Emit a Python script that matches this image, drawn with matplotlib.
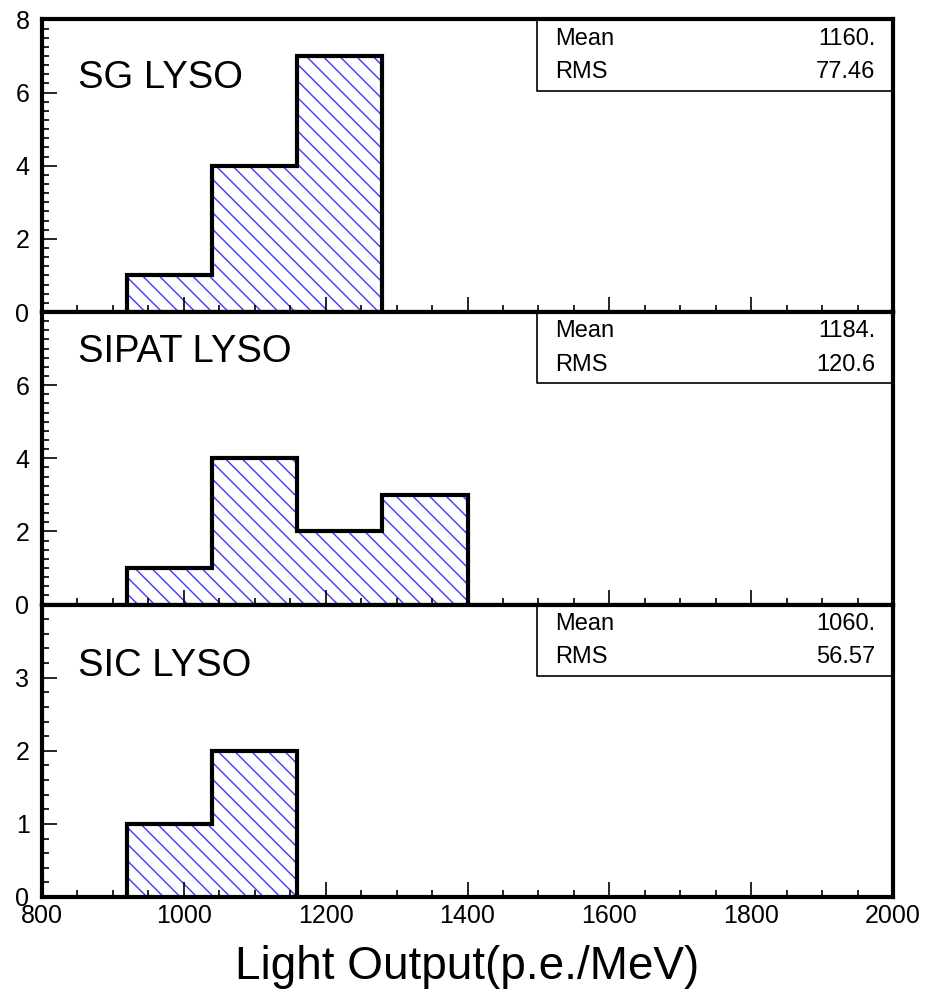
import numpy as np
import matplotlib.pyplot as plt
from matplotlib.ticker import MultipleLocator, FixedLocator

plt.rcParams['font.family'] = ['Liberation Sans', 'DejaVu Sans']
plt.rcParams['hatch.linewidth'] = 1.0

# histogram data
edges = [920, 1040, 1160, 1280, 1400]
names = ["SG LYSO", "SIPAT LYSO", "SIC LYSO"]
counts = [
    [1, 4, 7, 0],
    [1, 4, 2, 3],
    [1, 2, 0, 0],
]
means = ["1160.", "1184.", "1060."]
rms = ["77.46", "120.6", "56.57"]
ymax = [8, 8, 4]
yticks = [[0, 2, 4, 6, 8], [0, 2, 4, 6], [0, 1, 2, 3]]
yminor = [0.25, 0.25, 0.2]
label_y = [0.80, 0.863, 0.79]

fig = plt.figure(figsize=(9.27, 9.92), dpi=100)
left, width = 42 / 927, 851 / 927
h = 292.5 / 992
bottom0 = 1 - 897 / 992

for i in range(3):
    ax = fig.add_axes([left, bottom0 + (2 - i) * h, width, h])
    c = np.array(counts[i], dtype=float)
    # trim trailing empty bins
    n = len(c)
    while n > 0 and c[n - 1] == 0:
        n -= 1
    ax.stairs(c[:n], edges[:n + 1], baseline=0, fill=True, facecolor='white',
              edgecolor='#3a3aff', hatch='\\\\', linewidth=0)
    ax.stairs(c[:n], edges[:n + 1], baseline=0, color='black', linewidth=3)

    ax.set_xlim(800, 2000)
    ax.set_ylim(0, ymax[i])
    ax.xaxis.set_major_locator(MultipleLocator(200))
    ax.xaxis.set_minor_locator(MultipleLocator(50))
    ax.yaxis.set_major_locator(FixedLocator(yticks[i]))
    ax.yaxis.set_minor_locator(MultipleLocator(yminor[i]))
    ax.tick_params(which='both', direction='in', top=False, right=False,
                   width=1.2, labelsize=18)
    ax.tick_params(which='major', length=11)
    ax.tick_params(which='minor', length=5)
    ax.tick_params(axis='y', pad=9)
    ax.tick_params(axis='x', pad=5)
    if i < 2:
        ax.tick_params(axis='x', labelbottom=False)
    for s in ax.spines.values():
        s.set_linewidth(3)

    ax.text(0.042, label_y[i], names[i], transform=ax.transAxes,
            fontsize=27.5, va='center', ha='left')

    # stats box
    ax.plot([0.582, 0.582, 1.0], [1.0, 0.757, 0.757], transform=ax.transAxes,
            color='black', linewidth=1.2, clip_on=False)
    ax.text(0.603, 0.935, "Mean", transform=ax.transAxes, fontsize=17,
            va='center', ha='left')
    ax.text(0.979, 0.935, means[i], transform=ax.transAxes, fontsize=17,
            va='center', ha='right')
    ax.text(0.603, 0.82, "RMS", transform=ax.transAxes, fontsize=17,
            va='center', ha='left')
    ax.text(0.979, 0.82, rms[i], transform=ax.transAxes, fontsize=17,
            va='center', ha='right')

    if i == 2:
        ax.set_xlabel("Light Output(p.e./MeV)", fontsize=33, labelpad=12)

fig.savefig("out.png", dpi=100)
